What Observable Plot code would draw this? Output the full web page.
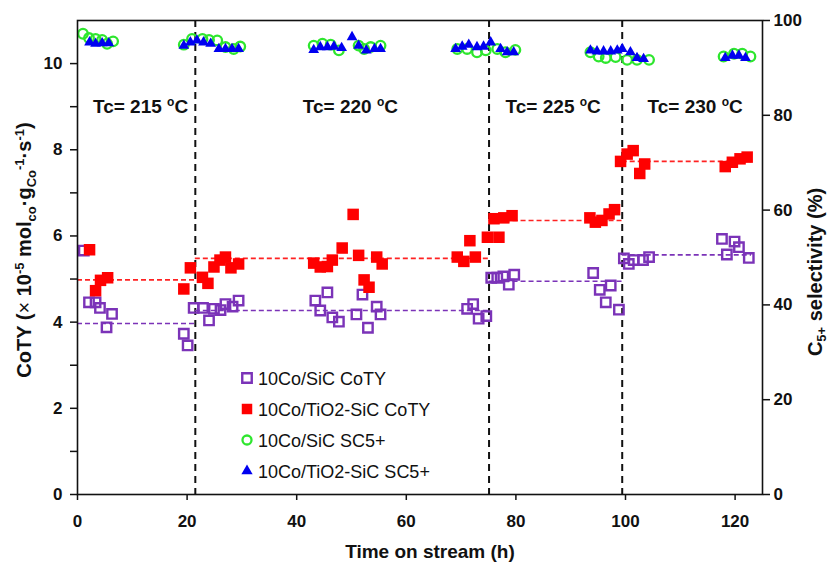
<!DOCTYPE html>
<html>
<head>
<meta charset="utf-8">
<script src="https://cdn.jsdelivr.net/npm/d3@7"></script>
<script src="https://cdn.jsdelivr.net/npm/@observablehq/plot@0.6"></script>
<style>
  html, body { margin: 0; padding: 0; background: #fff; }
  #chart { width: 830px; height: 563px; }
</style>
</head>
<body>
<div id="chart"></div>
<script>
// ---- Data ----
// 10Co/SiC CoTY (x10^-5 mol_co g_Co^-1 s^-1)
const sicCotyT = [1.15, 2.1, 3.3, 4.1, 5.3, 6.3, 19.4, 20.1, 21.2, 22.9, 24.0, 24.9, 26.1, 27.0, 28.3, 29.4,
  43.4, 44.3, 45.6, 46.5, 47.7, 50.9, 52.0, 53.0, 54.6, 55.3, 71.1, 72.2, 73.2, 74.6,
  75.5, 76.6, 77.7, 78.7, 79.7, 94.1, 95.3, 96.4, 97.3, 98.8,
  99.7, 100.6, 101.5, 103.2, 104.3, 117.6, 118.5, 119.9, 120.7, 122.5];
const sicCotyV = [5.66, 4.46, 4.46, 4.33, 3.88, 4.19, 3.73, 3.46, 4.33, 4.33, 4.04, 4.31, 4.28, 4.42, 4.36, 4.50,
  4.50, 4.27, 4.69, 4.11, 4.01, 4.18, 4.64, 3.87, 4.36, 4.18, 4.31, 4.42, 4.08, 4.14,
  5.03, 5.03, 5.06, 4.87, 5.10, 5.14, 4.75, 4.46, 4.85, 4.29,
  5.48, 5.35, 5.44, 5.44, 5.51, 5.93, 5.57, 5.87, 5.74, 5.49];

// 10Co/TiO2-SiC CoTY
const tioCotyT = [2.2, 3.3, 4.2, 5.5, 19.4, 20.6, 22.8, 23.8, 24.9, 26.0, 27.0, 28.0, 29.4,
  43.1, 44.3, 45.6, 46.5, 48.3, 50.3, 51.3, 52.3, 53.2, 54.6, 55.6,
  69.3, 70.5, 71.6, 72.6, 74.8, 76.0, 76.9, 77.8, 79.3,
  93.5, 94.5, 95.7, 97.0, 98.0, 99.1, 100.3, 101.4, 102.6, 103.5, 118.2, 119.5, 120.9, 122.2];
const tioCotyV = [5.68, 4.73, 4.97, 5.03, 4.77, 5.26, 5.04, 4.90, 5.28, 5.44, 5.51, 5.26, 5.35,
  5.37, 5.28, 5.29, 5.44, 5.72, 6.50, 5.55, 4.98, 4.81, 5.51, 5.35,
  5.51, 5.41, 5.89, 5.51, 5.97, 6.40, 5.97, 6.42, 6.47,
  6.42, 6.32, 6.36, 6.51, 6.61, 7.73, 7.90, 7.98, 7.45, 7.67, 7.61, 7.71, 7.79, 7.83];

// 10Co/SiC SC5+ (%)
const sicSelT = [1.0, 2.1, 3.3, 4.5, 5.4, 6.5, 19.4, 20.9, 22.8, 24.0, 25.5, 27.0, 28.5, 29.7,
  43.1, 44.7, 46.2, 47.7, 51.3, 52.3, 53.5, 55.3, 69.3, 71.1, 72.9, 74.5, 76.6, 78.1, 79.9,
  93.6, 95.1, 96.4, 98.2, 100.3, 102.1, 104.3, 117.9, 119.8, 121.3, 122.8];
const sicSelV = [97.2, 96.3, 96.1, 95.9, 95.1, 95.6, 94.9, 96.1, 96.1, 95.9, 95.8, 94.4, 94.0, 94.5,
  94.7, 95.1, 94.9, 93.7, 94.7, 94.0, 94.4, 94.7, 94.0, 94.0, 93.3, 93.7, 94.0, 93.3, 93.8,
  93.3, 92.4, 92.1, 92.3, 91.7, 91.7, 91.7, 92.4, 93.0, 93.0, 92.4];

// 10Co/TiO2-SiC SC5+ (%)
const tioSelT = [2.2, 3.3, 4.5, 5.7, 19.4, 20.6, 21.8, 23.0, 24.3, 25.8, 27.0, 28.2, 29.4,
  43.1, 44.3, 45.6, 46.8, 48.2, 50.1, 51.3, 52.7, 54.2, 55.3,
  69.0, 70.2, 71.4, 72.9, 74.1, 75.4, 77.2, 78.4, 79.6,
  93.6, 94.8, 96.0, 97.3, 98.5, 99.4, 100.9, 102.1, 103.3, 118.2, 119.5, 120.7, 121.9];
const tioSelV = [95.4, 95.1, 95.2, 95.2, 94.7, 95.4, 95.8, 95.4, 95.1, 94.0, 94.0, 94.0, 94.0,
  93.8, 94.4, 94.4, 94.5, 94.2, 96.5, 94.7, 93.7, 94.0, 94.0,
  94.0, 94.5, 94.9, 94.4, 94.5, 95.4, 94.0, 93.3, 93.3,
  93.7, 93.5, 93.5, 93.5, 93.7, 94.0, 93.3, 92.1, 91.9, 92.1, 92.6, 92.6, 92.1];

// Temperature periods and mean CoTY per period
const segStart = [0, 21.5, 75.1, 99.4];
const segEnd = [21.5, 75.1, 99.4, 123];
const sicMean = [3.97, 4.27, 4.95, 5.56];
const tioMean = [4.98, 5.48, 6.36, 7.73];
const dividers = [21.5, 75.1, 99.4];
const tcTemps = ["215", "220", "225", "230"];
const tcLabelT = [11.6, 49.9, 86.9, 112.8];
const tcLabelY = 8.85;

// Ticks
const xTicks = [0, 20, 40, 60, 80, 100, 120];
const yTicks = [0, 1, 2, 3, 4, 5, 6, 7, 8, 9, 10];
const selTicks = [0, 20, 40, 60, 80, 100];

const legendLabels = ["10Co/SiC CoTY", "10Co/TiO2-SiC CoTY", "10Co/SiC SC5+", "10Co/TiO2-SiC SC5+"];

// ---- Build tables ----
const YMAX = 11;            // left axis max
const selToY = p => p * YMAX / 100;  // right axis (0-100 %) shares the left scale
const zip = (t, v) => t.map((d, i) => ({t: d, v: v[i]}));
const sicCoty = zip(sicCotyT, sicCotyV);
const tioCoty = zip(tioCotyT, tioCotyV);
const sicSel = zip(sicSelT, sicSelV);
const tioSel = zip(tioSelT, tioSelV);
const segs = segStart.map((s, i) => ({a: s, b: segEnd[i], sic: sicMean[i], tio: tioMean[i]}));

const PURPLE = "#7b33b8", RED = "#ff0000", GREEN = "#2ee62e", BLUE = "#0000f0";
const FONT = "'Liberation Sans', Arial, Helvetica, sans-serif";

const plot = Plot.plot({
  width: 830,
  height: 563,
  marginLeft: 77,
  marginRight: 68,
  marginTop: 20,
  marginBottom: 69,
  style: {fontFamily: FONT, fontSize: "17px", fontWeight: "bold", color: "#111", background: "white", overflow: "visible"},
  x: {domain: [0, 125]},
  y: {domain: [0, YMAX]},
  marks: [
    Plot.ruleX(dividers, {stroke: "#111", strokeWidth: 2, strokeDasharray: "7,5"}),
    Plot.ruleY(segs, {y: "tio", x1: "a", x2: "b", stroke: "#f22", strokeWidth: 1.6, strokeDasharray: "5,3"}),
    Plot.ruleY(segs, {y: "sic", x1: "a", x2: "b", stroke: PURPLE, strokeWidth: 1.6, strokeDasharray: "5,3"}),
    Plot.dot(sicCoty, {x: "t", y: "v", symbol: "square", r: 5.3, fill: "none", stroke: PURPLE, strokeWidth: 2.4}),
    Plot.dot(tioCoty, {x: "t", y: "v", symbol: "square", r: 6.5, fill: RED, stroke: "none"}),
    Plot.dot(sicSel, {x: "t", y: d => selToY(d.v), symbol: "circle", r: 4.8, fill: "none", stroke: GREEN, strokeWidth: 2.3}),
    Plot.dot(tioSel, {x: "t", y: d => selToY(d.v), symbol: "triangle", r: 4.0, fill: BLUE, stroke: "none"}),
    Plot.frame({stroke: "#111", strokeWidth: 1.6}),
    Plot.axisX({ticks: xTicks, tickSize: 6, tickPadding: 14, label: null, strokeWidth: 1.5}),
    Plot.axisY({anchor: "left", ticks: yTicks, tickFormat: d => d % 2 === 0 ? String(d) : "", tickSize: 7, tickPadding: 8, label: null, strokeWidth: 1.5}),
    Plot.axisY({anchor: "right", ticks: selTicks.map(selToY), tickFormat: d => String(Math.round(d * 100 / YMAX)), tickSize: 7, tickPadding: 4, label: null, strokeWidth: 1.5})
  ]
});

document.getElementById("chart").appendChild(plot);

// ---- Rich text (sub/superscripts), placed with the plot's scales ----
const svg = d3.select(plot);
const xs = plot.scale("x"), ys = plot.scale("y");

// Temperature annotations
tcTemps.forEach((tc, i) => {
  const t = svg.append("text")
    .attr("x", xs.apply(tcLabelT[i]))
    .attr("y", ys.apply(tcLabelY))
    .attr("text-anchor", "middle")
    .attr("font-family", FONT).attr("font-weight", "bold").attr("font-size", 19).attr("fill", "#111");
  t.append("tspan").text("Tc= " + tc + " ");
  t.append("tspan").attr("font-size", 12).attr("dy", -7).text("o");
  t.append("tspan").attr("dy", 7).text("C");
});

// X axis title
svg.append("text")
  .attr("x", 430).attr("y", 558)
  .attr("text-anchor", "middle")
  .attr("font-family", FONT).attr("font-weight", "bold").attr("font-size", 19).attr("fill", "#111")
  .text("Time on stream (h)");

// Left axis title
{
  const t = svg.append("text")
    .attr("transform", "translate(31,250) rotate(-90)")
    .attr("text-anchor", "middle")
    .attr("font-family", FONT).attr("font-weight", "bold").attr("font-size", 20).attr("fill", "#111");
  t.append("tspan").text("CoTY (");
  t.append("tspan").attr("font-weight", "normal").text("\u00D7");
  t.append("tspan").text(" 10");
  t.append("tspan").attr("font-size", 13).attr("dy", -7).text("-5");
  t.append("tspan").attr("dy", 7).text(" mol");
  t.append("tspan").attr("font-size", 13).attr("dy", 5).text("co");
  t.append("tspan").attr("dy", -5).text("\u00B7g");
  t.append("tspan").attr("font-size", 13).attr("dy", 5).text("Co");
  t.append("tspan").attr("font-size", 13).attr("dy", -12).text("-1");
  t.append("tspan").attr("dy", 7).text("\u00B7s");
  t.append("tspan").attr("font-size", 13).attr("dy", -7).text("-1");
  t.append("tspan").attr("dy", 7).text(")");
}

// Right axis title
{
  const t = svg.append("text")
    .attr("transform", "translate(822,272) rotate(-90)")
    .attr("text-anchor", "middle")
    .attr("font-family", FONT).attr("font-weight", "bold").attr("font-size", 20).attr("fill", "#111");
  t.append("tspan").text("C");
  t.append("tspan").attr("font-size", 13).attr("dy", 4).text("5+");
  t.append("tspan").attr("dy", -4).text(" selectivity (%)");
}

// Legend
{
  const rows = [
    {type: d3.symbolSquare, size: 90, fill: "none", stroke: PURPLE, sw: 2.4},
    {type: d3.symbolSquare, size: 110, fill: RED, stroke: "none", sw: 0},
    {type: d3.symbolCircle, size: 64, fill: "none", stroke: GREEN, sw: 2.3},
    {type: d3.symbolTriangle, size: 55, fill: BLUE, stroke: "none", sw: 0}
  ];
  const rowY = [378, 409, 440, 471];
  const g = svg.append("g").attr("text-anchor", "start");
  rows.forEach((r, i) => {
    g.append("path")
      .attr("transform", `translate(247,${rowY[i]})`)
      .attr("d", d3.symbol().type(r.type).size(r.size)())
      .attr("fill", r.fill).attr("stroke", r.stroke).attr("stroke-width", r.sw);
    g.append("text")
      .attr("x", 258).attr("y", rowY[i] + 7)
      .attr("text-anchor", "start")
      .attr("font-family", FONT).attr("font-weight", "normal").attr("font-size", 18).attr("fill", "#111")
      .text(legendLabels[i]);
  });
}
</script>
</body>
</html>
